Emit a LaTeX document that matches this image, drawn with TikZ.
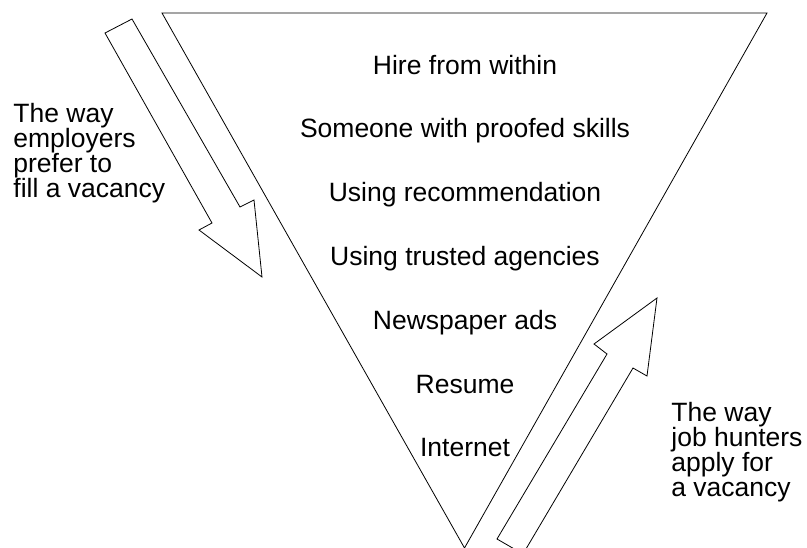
\documentclass[tikz,border=0pt]{standalone}
\usepackage{fontspec}
\setmainfont{Liberation Sans}
\usetikzlibrary{positioning}

\begin{document}
\begin{tikzpicture}[x=1pt,y=-1pt,node distance=63.8pt,on grid,line width=0.8pt,
	every node/.style={font=\fontsize{26.5}{24.8}\selectfont},
	level/.style={text height=19pt,text depth=6pt,inner sep=0pt},
	side/.style={align=left,anchor=north west,inner sep=0pt}]
	\clip (0,0) rectangle (807,547);
	\coordinate (tl) at (162,13);
	\coordinate (tr) at (767,13);
	\coordinate (bt) at (464.5,548);
	\draw (tl) -- (tr) -- (bt) -- cycle;
	\node[level] (1) at (465,67.5) {Hire from within};
	\node[level] (2) [below=of 1] {Someone with proofed skills};
	\node[level] (3) [below=of 2] {Using recommendation};
	\node[level] (4) [below=of 3] {Using trusted agencies};
	\node[level] (5) [below=of 4] {Newspaper ads};
	\node[level] (6) [below=of 5] {Resume};
	\node[level] (7) [below=of 6] {Internet};
	\node[side] (emp) at (13,103) {The way\\employers\\prefer to\\fill a vacancy};
	\node[side] (hunt) at (671,402) {The way\\job hunters\\apply for\\a vacancy};
	\draw (105,33) -- (132,19) -- (240,207) -- (254,200) -- (262,277) -- (199,230) -- (212,223) -- cycle;
	\draw (497,539) -- (607,354) -- (594,344) -- (657,298) -- (647,376) -- (633,368) -- (523,554) -- cycle;
\end{tikzpicture}
\end{document}
